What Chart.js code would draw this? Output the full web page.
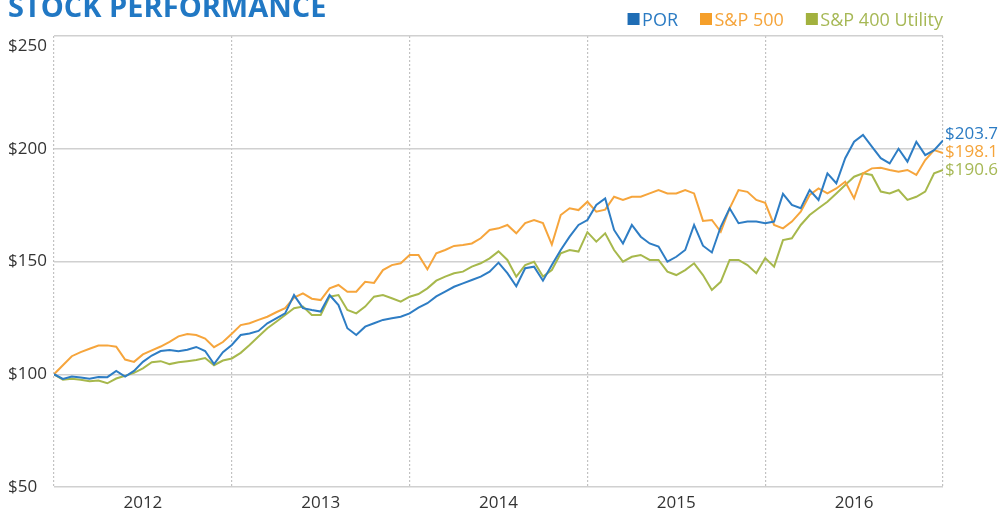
<!DOCTYPE html>
<html>
<head>
<meta charset="utf-8">
<script src="https://cdn.jsdelivr.net/npm/chart.js@4.4.1/dist/chart.umd.min.js"></script>
<style>
  html, body { margin: 0; padding: 0; background: #fff; }
  #wrap { position: relative; width: 1000px; height: 509px; }
</style>
</head>
<body>
<div id="wrap"><canvas id="perf"></canvas></div>
<script>
const seriesNames = ['POR', 'S&P 500', 'S&P 400 Utility'];
const years = ['2012', '2013', '2014', '2015', '2016'];
const startYear = 2012;
const pointsPerYear = 20;

// indexed value of $100 invested, read roughly 20 times a year
const por = [
  100, 97.9, 99, 98.6, 98, 98.8, 98.7, 101.5, 99, 101.5, 105.5, 108.3, 110.3, 110.8, 110.2, 110.9, 112.1, 110.3, 104.5, 109.8,
  113, 117.4, 118.1, 119.2, 122.6, 124.8, 127, 135.1, 129.3, 128.5, 127.8, 135.1, 130.7, 120.4, 117.4, 121.1, 122.6, 124.1, 124.8, 125.5,
  127, 129.5, 131.5, 134.5, 136.6, 138.8, 140.3, 141.8, 143.3, 145.5, 149.5, 144.8, 139, 147, 147.7, 141.5, 148.4, 155.1, 161, 166.2,
  168.4, 175.1, 178, 164, 158, 166.2, 161, 158, 156.6, 149.9, 152.1, 155.1, 166.2, 157, 154, 165.4, 173.6, 167, 167.7, 167.7,
  167, 167.7, 180, 175.1, 173.6, 181.7, 177.3, 189.1, 184.7, 195.8, 203.1, 206.1, 200.9, 195.8, 193.5, 200, 194.3, 203.1, 197.2, 199.4, 203.7
];
const sp500 = [
  100, 104, 108, 109.8, 111.3, 112.7, 112.8, 112.2, 106.5, 105.5, 108.8, 110.6, 112.3, 114.4, 116.8, 117.8, 117.4, 115.8, 112, 114.3,
  118, 121.8, 122.6, 124.1, 125.5, 127.5, 129.3, 134, 135.9, 133.5, 132.9, 138.1, 139.6, 136.6, 136.6, 141, 140.5, 146.2, 148.4, 149.2,
  152.9, 152.9, 146.5, 153.6, 155.1, 156.9, 157.3, 158, 160.3, 164, 164.7, 166.2, 162.5, 167, 168.4, 167, 157.5, 170.6, 173.6, 172.8,
  176.5, 172.1, 173, 178.7, 177.3, 178.7, 178.7, 180.2, 181.7, 180.2, 180.2, 181.7, 180.2, 168, 168.4, 163.2, 173.6, 181.7, 180.9, 177.3,
  176, 166.2, 164.7, 167.7, 172.1, 179.5, 182.4, 180.2, 182.4, 185.4, 178, 189.1, 191.3, 191.6, 190.6, 189.8, 190.6, 188.4, 195, 199.4, 198.1
];
const utility = [
  100, 97.6, 98, 97.6, 96.9, 97.2, 96, 98.1, 99.3, 100.6, 102.6, 105.3, 105.8, 104.5, 105.3, 105.8, 106.3, 107.2, 104, 106.1,
  107, 109.5, 113, 116.7, 120.4, 123.3, 126.3, 129.3, 130, 126.3, 126.3, 134.4, 135.1, 128.5, 127, 130, 134.4, 135.1, 133.7, 132.2,
  134.4, 135.6, 138.1, 141.5, 143.3, 144.8, 145.5, 147.7, 149.2, 151.4, 154.5, 150.7, 143.3, 148.4, 149.9, 143.3, 146.2, 153.6, 155.1, 154.4,
  163, 158.8, 162.5, 155.1, 149.9, 152.1, 152.9, 150.7, 150.7, 145.5, 144, 146.2, 149.2, 144, 137.4, 141, 150.7, 150.7, 148.4, 144.8,
  151.5, 147.7, 159.5, 160.3, 166.2, 170.6, 173.6, 176.5, 180.2, 183.9, 187.6, 189.1, 188.4, 181, 180.2, 181.7, 177.3, 178.7, 181, 189.1, 190.6
];
const yTicks = [50, 100, 150, 200, 250];

const lineColors = ['#2e7dc4', '#f6a53c', '#a7b84c'];
const boxColors = ['#1f6db5', '#f59f2a', '#a2b13e'];
const textColors = ['#2b7bc3', '#f5a43a', '#a6b855'];
const font = '"Open Sans", sans-serif';

const toPoints = (arr) => arr.map((v, i) => ({ x: startYear + i / pointsPerYear, y: v }));

const overlay = {
  id: 'overlay',
  afterDraw(chart) {
    const { ctx, chartArea, scales } = chart;
    ctx.save();

    // title (runs off the top edge like the source)
    ctx.font = 'bold 29px ' + font;
    ctx.fillStyle = '#2178c4';
    ctx.textAlign = 'left';
    ctx.textBaseline = 'alphabetic';
    ctx.fillText('STOCK PERFORMANCE', 8, 17);

    // legend, right aligned to the plot
    ctx.font = '18px ' + font;
    const box = 12, gap = 2.5, spacing = 22;
    const widths = seriesNames.map(n => ctx.measureText(n).width);
    let total = widths.reduce((a, w) => a + box + gap + w, 0) + spacing * (seriesNames.length - 1);
    let x = chartArea.right - total;
    seriesNames.forEach((name, i) => {
      ctx.fillStyle = boxColors[i];
      ctx.fillRect(x, 13, box, box);
      ctx.fillStyle = textColors[i];
      ctx.fillText(name, x + box + gap, 26);
      x += box + gap + widths[i] + spacing;
    });

    // top y label sits under its grid line
    ctx.font = '17px ' + font;
    ctx.fillStyle = '#333';
    ctx.textBaseline = 'middle';
    ctx.fillText('$' + yTicks[yTicks.length - 1], 8, scales.y.getPixelForValue(yTicks[yTicks.length - 1]) + 10);

    // end value labels
    const ends = chart.data.datasets.map((ds, i) => {
      const last = ds.data[ds.data.length - 1].y;
      return { y: scales.y.getPixelForValue(last), text: '$' + last.toFixed(1), color: textColors[i] };
    }).sort((a, b) => a.y - b.y);
    for (let i = ends.length - 2; i >= 0; i--) {
      ends[i].y = Math.min(ends[i].y, ends[i + 1].y - 18);
    }
    ends.forEach(e => {
      ctx.fillStyle = e.color;
      ctx.fillText(e.text, chartArea.right + 2, e.y);
    });
    ctx.restore();
  }
};

const perfConfig = {
  type: 'line',
  data: {
    datasets: [
      { label: seriesNames[0], data: toPoints(por), borderColor: lineColors[0] },
      { label: seriesNames[1], data: toPoints(sp500), borderColor: lineColors[1] },
      { label: seriesNames[2], data: toPoints(utility), borderColor: lineColors[2] }
    ].map(ds => Object.assign(ds, { borderWidth: 2, pointRadius: 0, tension: 0, fill: false }))
  },
  options: {
    responsive: true,
    maintainAspectRatio: false,
    animation: false,
    layout: { padding: { left: 8, right: 57, top: 36, bottom: 0 } },
    scales: {
      x: {
        type: 'linear',
        min: startYear,
        max: startYear + years.length,
        afterFit: (scale) => { scale.height = 22; },
        ticks: {
          stepSize: 0.5,
          autoSkip: false,
          maxRotation: 0,
          padding: 6,
          color: '#333',
          font: { family: font, size: 17 },
          callback: (v) => (v % 1 === 0.5 ? years[Math.floor(v - startYear)] : '')
        },
        grid: {
          color: (ctx) => (Number.isInteger(ctx.tick.value) ? '#c2c2c2' : 'rgba(0,0,0,0)'),
          lineWidth: 1.2,
          drawTicks: false
        },
        border: { display: false, dash: [2, 2] }
      },
      y: {
        min: yTicks[0],
        max: yTicks[yTicks.length - 1],
        afterFit: (scale) => { scale.width = 46; },
        ticks: {
          stepSize: 50,
          crossAlign: 'far',
          color: '#333',
          font: { family: font, size: 17 },
          callback: (v) => (v === yTicks[yTicks.length - 1] ? '' : '$' + v)
        },
        grid: { color: '#d0d0d0', lineWidth: 1.5, drawTicks: false },
        border: { display: false }
      }
    },
    plugins: {
      legend: { display: false },
      tooltip: { enabled: false }
    }
  },
  plugins: [overlay]
};

new Chart('perf', perfConfig);
</script>
</body>
</html>
